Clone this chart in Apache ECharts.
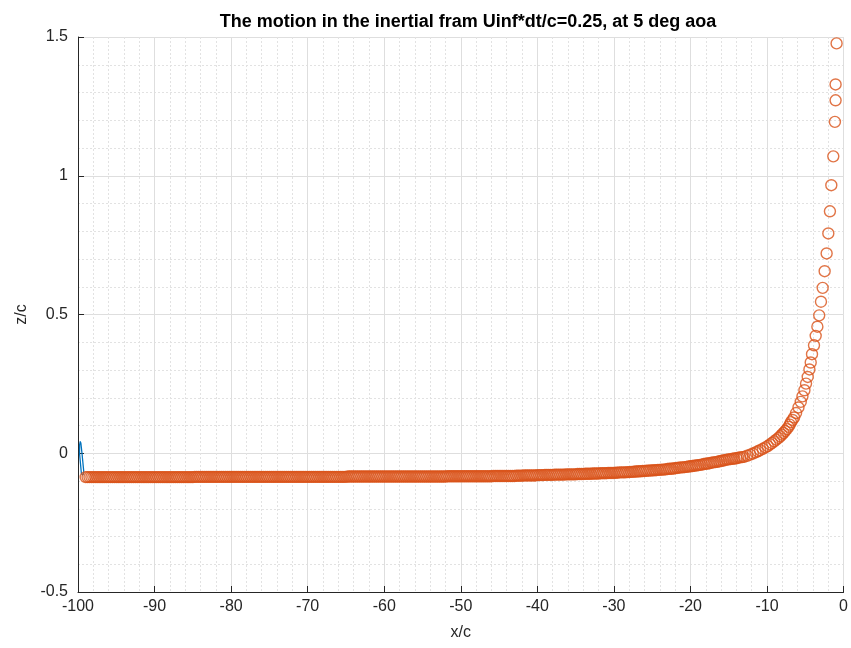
<!DOCTYPE html>
<html>
<head>
<meta charset="utf-8">
<title>Wake motion in the inertial frame</title>
<script src="https://cdn.jsdelivr.net/npm/echarts@6/dist/echarts.min.js"></script>
<style>
  html, body { margin: 0; padding: 0; background: #ffffff; overflow: hidden; }
  #chart { width: 851px; height: 648px; }
</style>
</head>
<body>
<div id="chart"></div>
<script>
// Axis ticks (x/c and z/c)
const xTicks = [-100, -90, -80, -70, -60, -50, -40, -30, -20, -10, 0];
const zTicks = [-0.5, 0, 0.5, 1, 1.5];

// Thin closed trace of the body near the start position
const bodyTrace = [
  [-99.55, -0.075], [-99.80, 0.000], [-99.79, 0.030], [-99.70, 0.043],
  [-99.62, 0.035], [-99.48, 0.000], [-99.25, -0.065], [-99.35, -0.078],
  [-99.55, -0.075]
];

// Shed wake points, far part (nearly flat sheet)
const wakeFar = [
  [-99,-0.086],[-98.75,-0.086],[-98.5,-0.086],[-98.25,-0.086],
  [-98,-0.086],[-97.75,-0.086],[-97.5,-0.086],[-97.25,-0.086],
  [-97,-0.086],[-96.75,-0.086],[-96.5,-0.086],[-96.25,-0.086],
  [-96,-0.086],[-95.75,-0.086],[-95.5,-0.086],[-95.25,-0.086],
  [-95,-0.086],[-94.75,-0.086],[-94.5,-0.086],[-94.25,-0.086],
  [-94,-0.086],[-93.75,-0.086],[-93.5,-0.086],[-93.25,-0.086],
  [-93,-0.086],[-92.75,-0.086],[-92.5,-0.086],[-92.25,-0.086],
  [-92,-0.086],[-91.75,-0.086],[-91.5,-0.086],[-91.25,-0.086],
  [-91,-0.086],[-90.75,-0.086],[-90.5,-0.086],[-90.25,-0.086],
  [-90,-0.086],[-89.75,-0.086],[-89.5,-0.086],[-89.25,-0.086],
  [-89,-0.086],[-88.75,-0.086],[-88.5,-0.086],[-88.25,-0.086],
  [-88,-0.086],[-87.75,-0.086],[-87.5,-0.086],[-87.25,-0.086],
  [-87,-0.086],[-86.75,-0.086],[-86.5,-0.086],[-86.25,-0.086],
  [-86,-0.086],[-85.75,-0.086],[-85.5,-0.086],[-85.25,-0.086],
  [-85,-0.086],[-84.75,-0.085],[-84.5,-0.085],[-84.25,-0.085],
  [-84,-0.085],[-83.75,-0.085],[-83.5,-0.085],[-83.25,-0.085],
  [-83,-0.085],[-82.75,-0.085],[-82.5,-0.085],[-82.25,-0.085],
  [-82,-0.085],[-81.75,-0.085],[-81.5,-0.085],[-81.25,-0.085],
  [-81,-0.085],[-80.75,-0.085],[-80.5,-0.085],[-80.25,-0.085],
  [-80,-0.085],[-79.75,-0.085],[-79.5,-0.085],[-79.25,-0.085],
  [-79,-0.085],[-78.75,-0.085],[-78.5,-0.085],[-78.25,-0.085],
  [-78,-0.085],[-77.75,-0.085],[-77.5,-0.085],[-77.25,-0.085],
  [-77,-0.085],[-76.75,-0.085],[-76.5,-0.085],[-76.25,-0.085],
  [-76,-0.085],[-75.75,-0.085],[-75.5,-0.085],[-75.25,-0.085],
  [-75,-0.085],[-74.75,-0.085],[-74.5,-0.085],[-74.25,-0.085],
  [-74,-0.085],[-73.75,-0.085],[-73.5,-0.085],[-73.25,-0.085],
  [-73,-0.085],[-72.75,-0.085],[-72.5,-0.085],[-72.25,-0.085],
  [-72,-0.085],[-71.75,-0.085],[-71.5,-0.085],[-71.25,-0.085],
  [-71,-0.085],[-70.75,-0.085],[-70.5,-0.085],[-70.25,-0.085],
  [-70,-0.085],[-69.75,-0.085],[-69.5,-0.085],[-69.25,-0.085],
  [-69,-0.085],[-68.75,-0.085],[-68.5,-0.085],[-68.25,-0.085],
  [-68,-0.085],[-67.75,-0.085],[-67.5,-0.085],[-67.25,-0.085],
  [-67,-0.085],[-66.75,-0.085],[-66.5,-0.085],[-66.25,-0.085],
  [-66,-0.085],[-65.75,-0.085],[-65.5,-0.085],[-65.25,-0.085],
  [-65,-0.085],[-64.75,-0.084],[-64.5,-0.084],[-64.25,-0.084],
  [-64,-0.084],[-63.75,-0.084],[-63.5,-0.084],[-63.25,-0.084],
  [-63,-0.084],[-62.75,-0.084],[-62.5,-0.084],[-62.25,-0.084],
  [-62,-0.084],[-61.75,-0.084],[-61.5,-0.084],[-61.25,-0.084],
  [-61,-0.084],[-60.75,-0.084],[-60.5,-0.084],[-60.25,-0.084],
  [-60,-0.084],[-59.75,-0.084],[-59.5,-0.084],[-59.25,-0.084],
  [-59,-0.084],[-58.75,-0.084],[-58.5,-0.084],[-58.25,-0.084],
  [-58,-0.084],[-57.75,-0.084],[-57.5,-0.084],[-57.25,-0.084],
  [-57,-0.084],[-56.75,-0.084],[-56.5,-0.084],[-56.25,-0.084],
  [-56,-0.084],[-55.75,-0.084],[-55.5,-0.084],[-55.25,-0.084],
  [-55,-0.084],[-54.75,-0.084],[-54.5,-0.084],[-54.25,-0.084],
  [-54,-0.084],[-53.75,-0.084],[-53.5,-0.084],[-53.25,-0.084],
  [-53,-0.084],[-52.75,-0.084],[-52.5,-0.084],[-52.25,-0.084],
  [-52,-0.084],[-51.75,-0.083],[-51.5,-0.083],[-51.25,-0.083],
  [-51,-0.083],[-50.75,-0.083],[-50.5,-0.083],[-50.25,-0.083],
  [-50,-0.083],[-49.75,-0.083],[-49.5,-0.083],[-49.25,-0.083],
  [-49,-0.083],[-48.75,-0.083],[-48.5,-0.083],[-48.25,-0.083],
  [-48,-0.083],[-47.75,-0.083],[-47.5,-0.083],[-47.25,-0.083],
  [-47,-0.083],[-46.75,-0.083],[-46.5,-0.083],[-46.25,-0.083],
  [-46,-0.083],[-45.75,-0.082],[-45.5,-0.082],[-45.25,-0.082],
  [-45,-0.082],[-44.75,-0.082],[-44.5,-0.082],[-44.25,-0.082],
  [-44,-0.082],[-43.75,-0.082],[-43.5,-0.082],[-43.25,-0.082],
  [-43,-0.082],[-42.75,-0.081],[-42.5,-0.081],[-42.25,-0.081],
  [-42,-0.081],[-41.75,-0.080],[-41.5,-0.080],[-41.25,-0.080],
  [-41,-0.080],[-40.75,-0.080],[-40.5,-0.080],[-40.25,-0.080],
  [-40,-0.079],[-39.75,-0.079],[-39.5,-0.079],[-39.25,-0.079],
  [-39,-0.078],[-38.75,-0.078],[-38.5,-0.078],[-38.25,-0.078],
  [-38,-0.078],[-37.75,-0.077],[-37.5,-0.077],[-37.25,-0.077],
  [-37,-0.077],[-36.75,-0.077],[-36.5,-0.077],[-36.25,-0.076],
  [-36,-0.076],[-35.75,-0.076],[-35.5,-0.076],[-35.25,-0.076],
  [-35,-0.076],[-34.75,-0.075],[-34.5,-0.075],[-34.25,-0.075],
  [-34,-0.075],[-33.75,-0.074],[-33.5,-0.074],[-33.25,-0.074],
  [-33,-0.074],[-32.75,-0.073],[-32.5,-0.073],[-32.25,-0.073],
  [-32,-0.073],[-31.75,-0.072],[-31.5,-0.072],[-31.25,-0.072],
  [-31,-0.072],[-30.75,-0.071],[-30.5,-0.071],[-30.25,-0.071],
  [-30,-0.071],[-29.75,-0.070],[-29.5,-0.070],[-29.25,-0.069],
  [-29,-0.069],[-28.75,-0.069],[-28.5,-0.069],[-28.25,-0.068],
  [-28,-0.068],[-27.75,-0.067],[-27.5,-0.067],[-27.25,-0.066],
  [-27,-0.066],[-26.75,-0.065],[-26.5,-0.065],[-26.25,-0.064],
  [-26,-0.064],[-25.75,-0.063],[-25.5,-0.063],[-25.25,-0.062],
  [-25,-0.062],[-24.75,-0.061],[-24.5,-0.061],[-24.25,-0.060],
  [-24,-0.060],[-23.75,-0.059],[-23.5,-0.059],[-23.25,-0.058],
  [-23,-0.057],[-22.75,-0.056],[-22.5,-0.056],[-22.25,-0.055],
  [-22,-0.054],[-21.75,-0.053],[-21.5,-0.052],[-21.25,-0.051],
  [-21,-0.051],[-20.75,-0.050],[-20.5,-0.049],[-20.25,-0.048],
  [-20,-0.047],[-19.75,-0.046],[-19.5,-0.045],[-19.25,-0.044],
  [-19,-0.043],[-18.75,-0.042],[-18.5,-0.041],[-18.25,-0.039],
  [-18,-0.038],[-17.75,-0.037],[-17.5,-0.036],[-17.25,-0.034],
  [-17,-0.033],[-16.75,-0.032],[-16.5,-0.031],[-16.25,-0.029],
  [-16,-0.028],[-15.75,-0.026],[-15.5,-0.025],[-15.25,-0.023],
  [-15,-0.022],[-14.75,-0.021],[-14.5,-0.020],[-14.25,-0.019],
  [-14,-0.018],[-13.75,-0.016],[-13.5,-0.015],[-13.25,-0.014]
];

// Shed wake points, near part (rolling up)
const wakeNear = [
  [-13.0, -0.013], [-12.6, -0.009], [-12.2, -0.005], [-11.85, -0.001], [-11.5, 0.003],
  [-11.2, 0.007], [-10.9, 0.011], [-10.55, 0.016], [-10.2, 0.021], [-9.9, 0.026],
  [-9.6, 0.032], [-9.33, 0.037], [-9.06, 0.043], [-8.78, 0.049], [-8.49, 0.055],
  [-8.27, 0.061], [-8.06, 0.067], [-7.85, 0.073], [-7.63, 0.080], [-7.41, 0.087],
  [-7.19, 0.095], [-7.03, 0.103], [-6.87, 0.112], [-6.66, 0.120], [-6.46, 0.129],
  [-6.20, 0.145], [-5.89, 0.165], [-5.59, 0.185], [-5.37, 0.205], [-5.11, 0.227],
  [-4.90, 0.251], [-4.68, 0.275], [-4.46, 0.302], [-4.29, 0.327], [-4.12, 0.357],
  [-3.86, 0.389], [-3.64, 0.423], [-3.42, 0.456], [-3.18, 0.497], [-2.95, 0.546],
  [-2.73, 0.596], [-2.47, 0.656], [-2.21, 0.720], [-1.99, 0.792], [-1.78, 0.872],
  [-1.60, 0.966], [-1.34, 1.070], [-1.13, 1.194], [-1.04, 1.272], [-1.04, 1.329],
  [-0.91, 1.477]
];

const font = '"Liberation Sans", Arial, Helvetica, sans-serif';
const axisInk = '#262626';

const chart = echarts.init(document.getElementById('chart'), null, { renderer: 'canvas' });

chart.setOption({
  animation: false,
  backgroundColor: '#ffffff',
  title: {
    text: 'The motion in the inertial fram Uinf*dt/c=0.25, at 5 deg aoa',
    left: 463,
    textAlign: 'center',
    top: 8,
    textStyle: { fontFamily: font, fontSize: 18, fontWeight: 'bold', color: '#000000' }
  },
  grid: { left: 78, right: 3, top: 37, bottom: 56, containLabel: false },
  xAxis: {
    type: 'value',
    min: xTicks[0],
    max: xTicks[xTicks.length - 1],
    interval: xTicks[1] - xTicks[0],
    name: 'x/c',
    nameLocation: 'middle',
    nameGap: 33,
    nameTextStyle: { fontFamily: font, fontSize: 16, color: axisInk },
    axisLine: { show: true, onZero: false, lineStyle: { color: axisInk, width: 1 } },
    axisTick: { show: true, inside: true, length: 6, lineStyle: { color: axisInk } },
    axisLabel: { fontFamily: font, fontSize: 16, color: axisInk, margin: 7 },
    splitLine: { show: true, lineStyle: { color: '#dedede', width: 1 } },
    minorTick: { show: false, splitNumber: 5 },
    minorSplitLine: { show: true, lineStyle: { color: '#e2e2e2', width: 1, type: [2, 2] } }
  },
  yAxis: {
    type: 'value',
    min: zTicks[0],
    max: zTicks[zTicks.length - 1],
    interval: zTicks[1] - zTicks[0],
    name: 'z/c',
    nameLocation: 'middle',
    nameGap: 48,
    nameRotate: 90,
    nameTextStyle: { fontFamily: font, fontSize: 16, color: axisInk },
    axisLine: { show: true, onZero: false, lineStyle: { color: axisInk, width: 1 } },
    axisTick: { show: true, inside: true, length: 6, lineStyle: { color: axisInk } },
    axisLabel: { fontFamily: font, fontSize: 16, color: axisInk, margin: 10 },
    splitLine: { show: true, lineStyle: { color: '#dedede', width: 1 } },
    minorTick: { show: false, splitNumber: 5 },
    minorSplitLine: { show: true, lineStyle: { color: '#e2e2e2', width: 1, type: [2, 2] } }
  },
  series: [
    {
      name: 'body',
      type: 'line',
      data: bodyTrace,
      showSymbol: false,
      lineStyle: { color: '#0072BD', width: 1.3 },
      z: 2
    },
    {
      name: 'wake',
      type: 'scatter',
      data: wakeFar.concat(wakeNear),
      symbol: 'circle',
      symbolSize: 11,
      itemStyle: { color: 'rgba(0,0,0,0)', borderColor: '#D95319', borderWidth: 1.4 },
      z: 3
    }
  ]
});
</script>
</body>
</html>
